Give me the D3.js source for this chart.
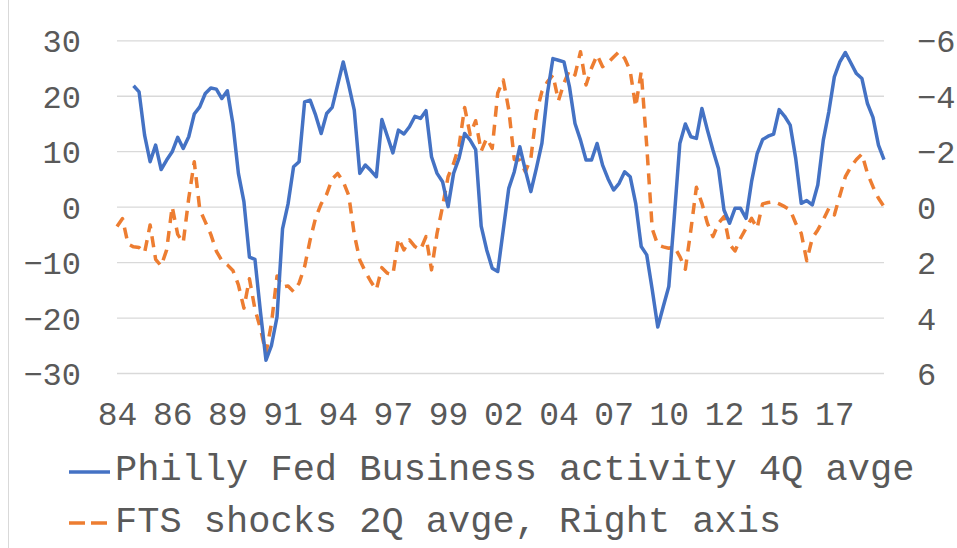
<!DOCTYPE html>
<html>
<head>
<meta charset="utf-8">
<script src="https://cdn.jsdelivr.net/npm/d3@7"></script>
<style>
  body { margin: 0; background: #fff; }
  svg { display: block; }
  text { font-family: 'Liberation Mono', 'Courier New', monospace; fill: #595959; }
</style>
</head>
<body>
<svg id="chart" width="957" height="548"></svg>
<script>
// quarterly points, 1984 -> 2018
const quarterCount = 140;
const tickEvery = 10;
const xTickLabels = ['84', '86', '89', '91', '94', '97', '99', '02', '04', '07', '10', '12', '15', '17'];
const leftTicks = [30, 20, 10, 0, -10, -20, -30];
const rightTicks = [-6, -4, -2, 0, 2, 4, 6];

// Philly Fed business activity, 4Q average (left axis)
const phillyFed = [
	null, null, null, 21.8, 20.7, 12.9, 8.1, 11.1, 6.7, 8.4,
	9.9, 12.5, 10.5, 12.6, 16.7, 18.0, 20.4, 21.4, 21.2, 19.5,
	20.9, 15.0, 6.0, 0.9, -9.1, -9.5, -19.0, -27.7, -25.0, -19.9,
	-4.0, 0.5, 7.2, 8.1, 18.9, 19.2, 16.5, 13.2, 16.8, 17.9,
	22.0, 26.1, 21.9, 17.4, 6.0, 7.5, 6.5, 5.4, 15.7, 12.7,
	9.7, 13.8, 13.1, 14.4, 16.3, 15.9, 17.3, 9.0, 6.0, 4.5,
	0.0, 6.0, 8.8, 13.2, 12.0, 10.3, -3.5, -7.8, -11.1, -11.7,
	-4.2, 3.3, 6.3, 10.8, 6.6, 2.7, 6.9, 11.4, 20.4, 26.7,
	26.4, 26.1, 21.6, 15.0, 12.0, 8.4, 8.4, 11.4, 7.5, 5.0,
	3.0, 4.2, 6.3, 5.4, 0.6, -7.2, -8.7, -15.0, -21.7, -18.0,
	-14.4, -1.8, 11.4, 14.9, 12.6, 12.3, 17.7, 13.8, 10.2, 6.9,
	-0.6, -3.0, -0.3, -0.3, -2.1, 4.5, 9.5, 12.1, 12.7, 13.1,
	17.5, 16.3, 14.7, 8.7, 0.6, 1.1, 0.3, 3.9, 12.0, 17.1,
	23.4, 26.1, 27.8, 25.9, 24.0, 23.1, 18.6, 16.1, 11.1, 8.5
];

// FTS shocks, 2Q average (right axis, inverted)
const ftsShocks = [
	0.72, 0.43, 1.35, 1.45, 1.47, 1.66, 0.66, 1.9, 2.14, 1.56,
	0.0, 1.0, 1.3, -0.3, -1.62, 0.1, 0.55, 1.0, 1.6, 1.95,
	2.1, 2.3, 2.82, 3.66, 2.6, 3.7, 4.4, 5.29, 4.2, 2.5,
	2.9, 2.86, 3.07, 2.76, 2.16, 1.2, 0.4, -0.1, -0.45, -1.0,
	-1.2, -0.9, -0.4, 1.0, 1.92, 2.34, 2.7, 3.0, 2.2, 2.4,
	2.46, 1.14, 1.56, 1.2, 1.44, 1.56, 1.08, 2.28, 0.96, 0.0,
	-1.08, -1.56, -2.2, -3.58, -2.6, -3.1, -2.0, -2.47, -2.1, -4.1,
	-4.57, -3.5, -1.7, -1.68, -1.26, -1.74, -3.37, -4.15, -4.5, -4.75,
	-3.82, -4.45, -4.93, -4.75, -5.59, -4.39, -5.0, -5.47, -5.05, -5.2,
	-5.4, -5.59, -5.35, -4.9, -3.6, -4.87, -2.2, 0.8, 1.38, 1.45,
	1.5, 1.44, 1.8, 2.26, 0.84, -0.7, -0.12, 0.6, 1.08, 0.6,
	0.36, 1.35, 1.6, 1.14, 0.78, 0.42, 0.78, -0.1, -0.15, -0.18,
	-0.1, 0.0, 0.12, 0.6, 0.96, 1.95, 1.14, 0.84, 0.48, 0.06,
	0.3, -0.4, -1.08, -1.44, -1.7, -1.9, -1.2, -0.72, -0.3, 0.0
];

const legendNames = ['Philly Fed Business activity 4Q avge', 'FTS shocks 2Q avge, Right axis'];

const blueColor = '#4472C4';
const orangeColor = '#ED7D31';
const minus = v => (v < 0 ? '\u2212' + Math.abs(v) : String(v));

const svg = d3.select('#chart');

const plot = { left: 117, right: 884, top: 40.3, bottom: 373 };

const x = d3.scaleLinear().domain([0, quarterCount - 1]).range([plot.left, plot.right]);
const yLeft = d3.scaleLinear().domain([-30, 30]).range([plot.bottom, plot.top]);
const yRight = d3.scaleLinear().domain([6, -6]).range([plot.bottom, plot.top]);

// chart area border on the left
svg.append('line')
	.attr('x1', 8.5).attr('x2', 8.5)
	.attr('y1', 0).attr('y2', 548)
	.style('stroke', '#D9D9D9')
	.style('stroke-width', 1);

// gridlines
const grid = svg.append('g')
	.attr('transform', `translate(${plot.left},0)`)
	.call(d3.axisLeft(yLeft).tickValues(leftTicks).tickSize(-(plot.right - plot.left)).tickFormat(''));
grid.select('.domain').remove();
grid.selectAll('.tick line').style('stroke', '#D9D9D9').style('stroke-width', 1.3);

// left axis labels
const leftAxis = svg.append('g')
	.attr('transform', 'translate(81,0)')
	.call(d3.axisLeft(yLeft).tickValues(leftTicks).tickSize(0).tickPadding(0).tickFormat(minus));
leftAxis.select('.domain').remove();
leftAxis.selectAll('text')
	.style('font-size', '32px')
	.attr('dy', '0.36em');

// right axis labels
const rightAxis = svg.append('g')
	.attr('transform', 'translate(917,0)')
	.call(d3.axisRight(yRight).tickValues(rightTicks).tickSize(0).tickPadding(0).tickFormat(minus));
rightAxis.select('.domain').remove();
rightAxis.selectAll('text')
	.style('font-size', '32px')
	.attr('dy', '0.36em');

// category labels, one every 10 quarters
const xAxis = svg.append('g')
	.attr('transform', 'translate(0,413)')
	.call(d3.axisBottom(x)
		.tickValues(xTickLabels.map((d, i) => i * tickEvery))
		.tickSize(0).tickPadding(0)
		.tickFormat((d, i) => xTickLabels[i]));
xAxis.select('.domain').remove();
xAxis.selectAll('text')
	.style('font-size', '33px')
	.attr('y', 0)
	.attr('dy', '0.36em');

// orange dashed series (right axis)
const orangeLine = d3.line()
	.x((d, i) => x(i))
	.y(d => yRight(d));

svg.append('path')
	.datum(ftsShocks)
	.attr('d', orangeLine)
	.style('fill', 'none')
	.style('stroke', orangeColor)
	.style('stroke-width', 3.5)
	.style('stroke-dasharray', '11,8')
	.style('stroke-linejoin', 'round');

// blue series (left axis)
const blueLine = d3.line()
	.defined(d => d !== null)
	.x((d, i) => x(i))
	.y(d => yLeft(d));

svg.append('path')
	.datum(phillyFed)
	.attr('d', blueLine)
	.style('fill', 'none')
	.style('stroke', blueColor)
	.style('stroke-width', 3.5)
	.style('stroke-linejoin', 'round');

// legend
const legend = svg.append('g');
const legendRows = [
	{ name: legendNames[0], color: blueColor, dash: null, y: 472, base: 480 },
	{ name: legendNames[1], color: orangeColor, dash: '16,6', y: 523, base: 532 }
];

legendRows.forEach(row => {
	legend.append('line')
		.attr('x1', 69).attr('x2', 110)
		.attr('y1', row.y).attr('y2', row.y)
		.style('stroke', row.color)
		.style('stroke-width', 3.5)
		.style('stroke-dasharray', row.dash);
	legend.append('text')
		.attr('x', 115)
		.attr('y', row.base)
		.style('font-size', '37px')
		.text(row.name);
});
</script>
</body>
</html>
